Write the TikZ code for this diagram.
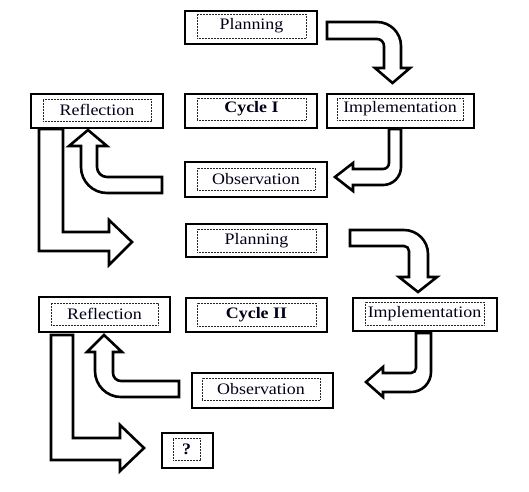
\documentclass[tikz,border=0pt]{standalone}
\usepackage{fontspec}
\setmainfont{Liberation Serif}[FakeStretch=1.12]
\usetikzlibrary{fit}
\tikzset{
  obox/.style={draw=black, line width=1.1pt, fill=white, inner sep=0pt},
  ibox/.style={draw=black!85, dash pattern=on 0.8pt off 0.7pt, line width=0.9pt, inner sep=0pt},
  txt/.style={inner sep=0pt, font=\fontsize{16}{19}\selectfont, text=black!90!blue},
  blockarrow/.style={draw=black, line width=2.6pt, fill=white, line join=miter, miter limit=10},
}
\begin{document}
\begin{tikzpicture}[x=1pt,y=-1pt]
\useasboundingbox (0,0) rectangle (529,491);
\fill[white] (0,0) rectangle (529,491);

% ---- Cycle I boxes
\node[obox, fit={(185,11)(317,44)}] (plan1) {};
\node[ibox, fit={(197,14)(306,38)}] (plan1t) {};
\node[txt] at (plan1t) {Planning};
\node[obox, fit={(31,94)(163,128)}] (refl1) {};
\node[ibox, fit={(43,99)(151,121)}] (refl1t) {};
\node[txt] at (refl1t) {Reflection};
\node[obox, fit={(185,94)(317,128)}] (cyc1) {};
\node[ibox, fit={(197,98)(306,120)}] (cyc1t) {};
\node[txt] at (cyc1t) {\bfseries Cycle I};
\node[obox, fit={(327,94)(474,128)}] (impl1) {};
\node[ibox, fit={(337,98)(463,120)}] (impl1t) {};
\node[txt] at (impl1t) {Implementation};
\node[obox, fit={(185,162)(327,197)}] (obs1) {};
\node[ibox, fit={(197,168)(315,190)}] (obs1t) {};
\node[txt] at (obs1t) {Observation};

% ---- Cycle II boxes
\node[obox, fit={(186,224)(327,257)}] (plan2) {};
\node[ibox, fit={(197,229)(316,252)}] (plan2t) {};
\node[txt] at (plan2t) {Planning};
\node[obox, fit={(39,297)(170,332)}] (refl2) {};
\node[ibox, fit={(51,303)(158,325)}] (refl2t) {};
\node[txt] at (refl2t) {Reflection};
\node[obox, fit={(186,298)(327,332)}] (cyc2) {};
\node[ibox, fit={(197,303)(316,326)}] (cyc2t) {};
\node[txt] at (cyc2t) {\bfseries Cycle II};
\node[obox, fit={(353,298)(497,331)}] (impl2) {};
\node[ibox, fit={(365,302)(484,325)}] (impl2t) {};
\node[txt] at (impl2t) {Implementation};
\node[obox, fit={(192,373)(333,408)}] (obs2) {};
\node[ibox, fit={(202,378)(320,400)}] (obs2t) {};
\node[txt] at (obs2t) {Observation};
\node[obox, fit={(162,433)(213,468)}] (next) {};
\node[ibox, fit={(173,438)(200,460)}] (nextt) {};
\node[txt] at (nextt) {\bfseries ?};

% ---- block arrows, cycle I
% Planning -> Implementation
\draw[blockarrow] (327,22) -- (377,22) arc[start angle=-90,end angle=0,radius=24]
  -- (401,68) -- (410,68) -- (392.5,83) -- (375,68) -- (384,68) -- (384,46)
  arc[start angle=0,end angle=-90,radius=7] -- (327,39) -- cycle;
% Implementation -> Observation
\draw[blockarrow] (389,129) -- (401,129) -- (401,167) arc[start angle=0,end angle=90,radius=18]
  -- (353,185) -- (353,191) -- (335,177) -- (353,163) -- (353,169) -- (383,169)
  arc[start angle=90,end angle=0,radius=6] -- cycle;
% Observation -> Reflection
\draw[blockarrow] (162,177) -- (162,193) -- (107,193) arc[start angle=90,end angle=180,radius=26]
  -- (81,146) -- (69,146) -- (88,130) -- (107,146) -- (97,146) -- (97,167)
  arc[start angle=180,end angle=90,radius=10] -- cycle;
% Reflection -> Planning (cycle II)
\draw[blockarrow] (39,129) -- (63,129) -- (63,232) -- (109,232) -- (109,220) -- (132,242)
  -- (109,265) -- (109,251) -- (39,251) -- cycle;

% ---- block arrows, cycle II
% Planning -> Implementation
\draw[blockarrow] (350,230) -- (404,230) arc[start angle=-90,end angle=0,radius=24]
  -- (428,277) -- (437,277) -- (418,292) -- (399,277) -- (409,277) -- (409,251)
  arc[start angle=0,end angle=-90,radius=5] -- (350,246) -- cycle;
% Implementation -> Observation
\draw[blockarrow] (416,333) -- (431,333) -- (431,372) arc[start angle=0,end angle=90,radius=20]
  -- (383,392) -- (383,397) -- (366,382) -- (383,367) -- (383,373) -- (411,373)
  arc[start angle=90,end angle=0,radius=5] -- cycle;
% Observation -> Reflection
\draw[blockarrow] (179,381) -- (179,397) -- (121,397) arc[start angle=90,end angle=180,radius=26]
  -- (95,352) -- (87,352) -- (104,335) -- (122,352) -- (113,352) -- (113,373)
  arc[start angle=180,end angle=90,radius=8] -- cycle;
% Reflection -> ?
\draw[blockarrow] (51,335) -- (73,335) -- (73,438) -- (120,438) -- (120,425) -- (144,448)
  -- (120,471) -- (120,460) -- (51,460) -- cycle;
\end{tikzpicture}
\end{document}
